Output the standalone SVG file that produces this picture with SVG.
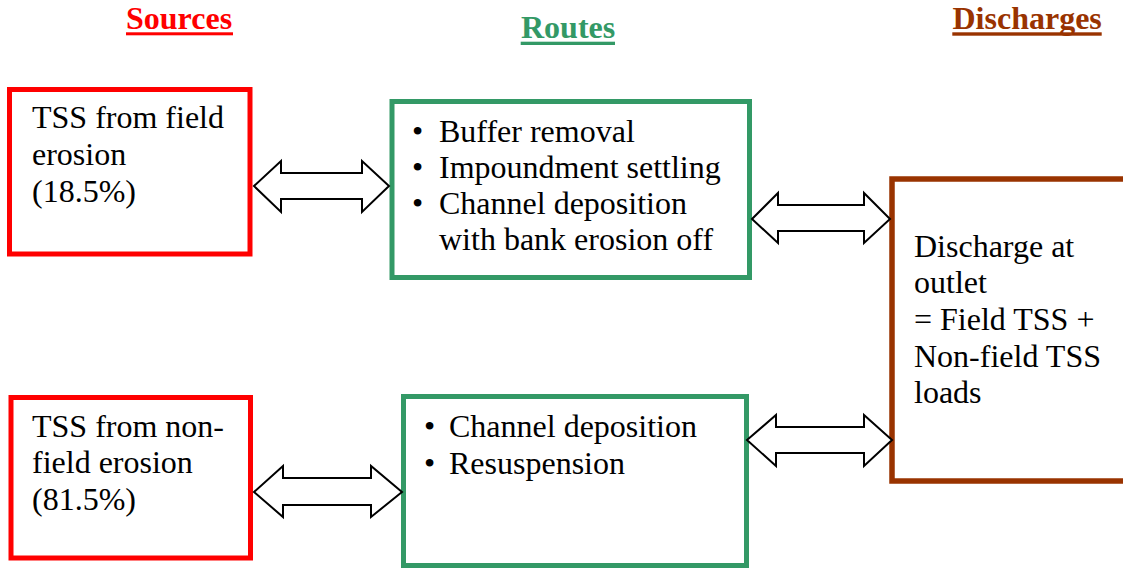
<svg xmlns="http://www.w3.org/2000/svg" width="1123" height="569" viewBox="0 0 1123 569">
  <style>
    .t { font-family: "Liberation Serif", "Times New Roman", serif; font-size: 32px; fill: #000000; }
    .hd { font-family: "Liberation Serif", "Times New Roman", serif; font-size: 32px; font-weight: bold; }
    .src { fill: #ffffff; stroke: #ff0000; stroke-width: 5; }
    .route { fill: #ffffff; stroke: #339966; stroke-width: 5; }
    .dis { fill: #ffffff; stroke: #993300; stroke-width: 5.5; }
    .arrow { fill: #ffffff; stroke: #000000; stroke-width: 2; stroke-linejoin: miter; }
  </style>
  <rect width="1123" height="569" fill="#ffffff"/>

  <!-- Sources -->
  <g id="field-source">
    <rect class="src" x="9.5" y="89.5" width="240.5" height="164.5"/>
    <text class="t" x="32" y="128">TSS from field</text>
    <text class="t" x="32" y="165">erosion</text>
    <text class="t" x="32" y="202">(18.5%)</text>
  </g>
  <g id="nonfield-source">
    <rect class="src" x="11" y="397.5" width="239.5" height="160.5"/>
    <text class="t" x="32" y="436.7">TSS from non-</text>
    <text class="t" x="32" y="473.3">field erosion</text>
    <text class="t" x="32" y="510">(81.5%)</text>
  </g>

  <!-- Routes: bulleted lists -->
  <g id="field-route">
    <rect class="route" x="392" y="101.5" width="357.5" height="176"/>
    <text class="t" x="412" y="141.7">•<tspan x="439">Buffer removal</tspan></text>
    <text class="t" x="412" y="177.7">•<tspan x="439">Impoundment settling</tspan></text>
    <text class="t" x="412" y="214">•<tspan x="439">Channel deposition</tspan></text>
    <text class="t" x="439" y="250.3">with bank erosion off</text>
  </g>
  <g id="nonfield-route">
    <rect class="route" x="403.5" y="396.5" width="343" height="169"/>
    <text class="t" x="424" y="437">•<tspan x="449">Channel deposition</tspan></text>
    <text class="t" x="424" y="474">•<tspan x="449">Resuspension</tspan></text>
  </g>

  <!-- Discharge -->
  <g id="outlet">
    <rect class="dis" x="892" y="179" width="300" height="302"/>
    <text class="t" x="914" y="256.7">Discharge at</text>
    <text class="t" x="914" y="293.3">outlet</text>
    <text class="t" x="914" y="330">= Field TSS +</text>
    <text class="t" x="914" y="366.7">Non-field TSS</text>
    <text class="t" x="914" y="403.3">loads</text>
  </g>

  <!-- Two-way block arrows between stages -->
  <g id="connectors">
    <path class="arrow" d="M254,186 L281,161 L281,173 L362,173 L362,161 L389,186 L362,212 L362,199 L281,199 L281,212 Z"/>
    <path class="arrow" d="M752,219 L778,193 L778,205 L864,205 L864,193 L890,219 L864,243 L864,231 L778,231 L778,243 Z"/>
    <path class="arrow" d="M254,492 L283,466 L283,478 L371,478 L371,466 L402,492 L371,517 L371,505 L283,505 L283,517 Z"/>
    <path class="arrow" d="M747,440 L776,415 L776,427 L864,427 L864,415 L892,440 L864,466 L864,453 L776,453 L776,466 Z"/>
  </g>

  <!-- Column headings, underlined -->
  <g id="headings">
    <text class="hd" x="126" y="29" fill="#ff0000">Sources</text>
    <rect x="126" y="32.3" width="107" height="3" fill="#ff0000"/>
    <text class="hd" x="521" y="37.5" fill="#339966">Routes</text>
    <rect x="520.7" y="41.7" width="94.3" height="3.3" fill="#339966"/>
    <text class="hd" x="952.5" y="29" fill="#993300">Discharges</text>
    <rect x="952.3" y="32.3" width="149.4" height="3.4" fill="#993300"/>
  </g>
</svg>
